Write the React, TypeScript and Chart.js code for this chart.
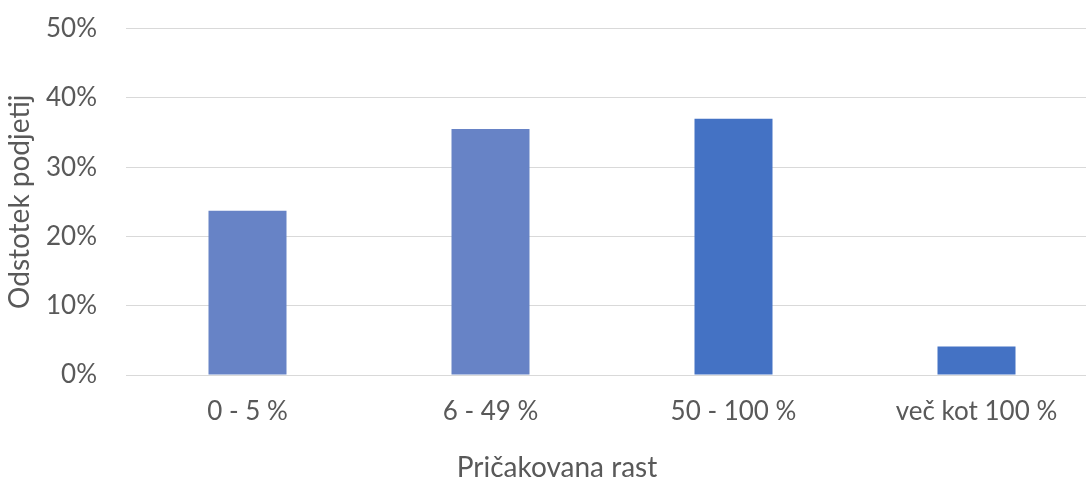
import React, { useEffect, useRef } from "react";
import { Chart, registerables } from "chart.js";

Chart.register(...registerables);

const categories = ["0 - 5 %", "6 - 49 %", "50 - 100 %", "več kot 100 %"];
const shares = [23.7, 35.5, 37.0, 4.1];
const barColors = ["#6783C6", "#6783C6", "#4472C4", "#4472C4"];
const yTicks = [0, 10, 20, 30, 40, 50];
const yTitle = "Odstotek podjetij";
const xTitle = "Pričakovana rast";

const FONT = "Lato, 'Open Sans', sans-serif";
const TEXT = "#595959";
const GRID = "#D9D9D9";

export default function App() {
  const ref = useRef<HTMLCanvasElement | null>(null);

  useEffect(() => {
    if (!ref.current) return;
    const chart = new Chart(ref.current, {
      type: "bar",
      data: {
        labels: categories,
        datasets: [
          {
            data: shares,
            backgroundColor: barColors,
            borderWidth: 0,
            categoryPercentage: 1,
            barPercentage: 0.321,
          },
        ],
      },
      options: {
        animation: false,
        responsive: false,
        maintainAspectRatio: false,
        layout: { padding: { left: 16, right: 16, top: 0, bottom: 0 } },
        plugins: {
          legend: { display: false },
          tooltip: { enabled: false },
          title: {
            display: true,
            text: xTitle,
            position: "bottom",
            color: TEXT,
            font: { family: FONT, size: 28, weight: "normal", lineHeight: 1 },
            padding: { top: 0, bottom: 0 },
          },
        },
        scales: {
          x: {
            grid: { display: false, drawTicks: false },
            border: { display: true, color: GRID, width: 1 },
            ticks: {
              color: TEXT,
              font: { family: FONT, size: 26 },
              padding: 21,
            },
            afterFit: (s: any) => {
              s.height = 79;
            },
          },
          y: {
            min: 0,
            max: 50,
            afterBuildTicks: (s: any) => {
              s.ticks = yTicks.map((v) => ({ value: v }));
            },
            grid: { color: GRID, lineWidth: 1, drawTicks: false },
            border: { display: false },
            ticks: {
              color: TEXT,
              font: { family: FONT, size: 26 },
              padding: 29,
              callback: (v: any) => `${v}%`,
            },
            title: {
              display: true,
              text: yTitle,
              color: TEXT,
              font: { family: FONT, size: 28, weight: "normal" },
              padding: { top: -13, bottom: 0 },
            },
            afterFit: (s: any) => {
              s.width = 110;
            },
          },
        },
      },
    });
    return () => chart.destroy();
  }, []);

  return (
    <div
      style={{
        position: "fixed",
        left: 0,
        top: 0,
        width: 1086,
        height: 482,
        overflow: "hidden",
        background: "#fff",
      }}
    >
      <canvas
        ref={ref}
        width={1114}
        height={498}
        style={{ display: "block", marginTop: -16 }}
      />
    </div>
  );
}
